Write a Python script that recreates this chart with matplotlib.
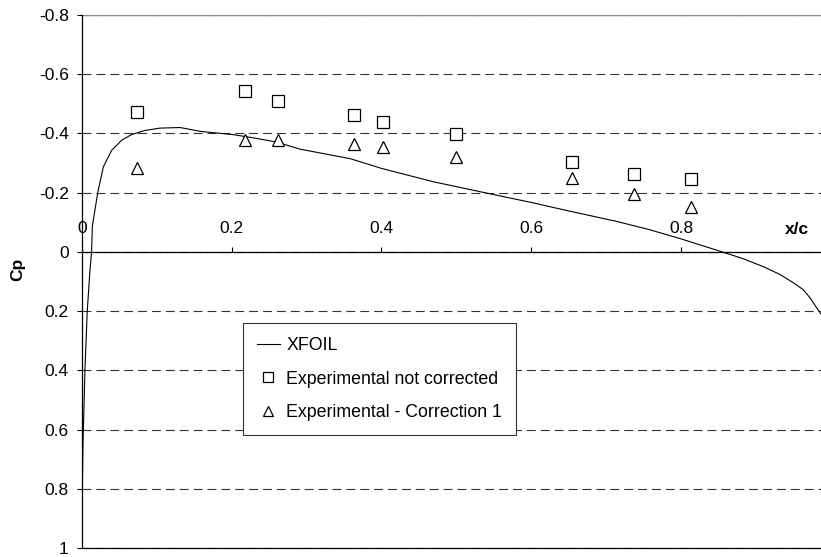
import numpy as np
import matplotlib
matplotlib.use('Agg')
import matplotlib.pyplot as plt

plt.rcParams['font.family'] = ['Liberation Sans', 'DejaVu Sans']

## data ########################################
# XFOIL Cp distribution (upper surface)
xfoil_x = [0.0, 0.0005, 0.0013, 0.004, 0.007, 0.0107, 0.0128, 0.0138, 0.021,
           0.0285, 0.0396, 0.053, 0.066, 0.084, 0.104, 0.131, 0.158, 0.202,
           0.229, 0.26, 0.291, 0.358, 0.4, 0.469, 0.547, 0.6, 0.647, 0.714,
           0.758, 0.8, 0.855, 0.883, 0.91, 0.932, 0.95, 0.963, 0.972, 0.987, 1.0]
xfoil_cp = [1.0, 0.8, 0.65, 0.395, 0.2, 0.06, 0.0, -0.086, -0.2,
            -0.287, -0.343, -0.377, -0.396, -0.41, -0.418, -0.42, -0.407, -0.396,
            -0.385, -0.371, -0.347, -0.315, -0.282, -0.237, -0.195, -0.167, -0.14, -0.103,
            -0.075, -0.044, 0.0, 0.023, 0.05, 0.076, 0.104, 0.127, 0.154, 0.21, 0.27]

# experimental pressure taps
exp_x = [0.074, 0.218, 0.262, 0.363, 0.402, 0.499, 0.655, 0.737, 0.813]
exp_raw = [-0.474, -0.542, -0.508, -0.463, -0.438, -0.397, -0.302, -0.263, -0.245]
exp_corr1 = [-0.284, -0.377, -0.377, -0.366, -0.354, -0.320, -0.250, -0.195, -0.151]

xticks = [0, 0.2, 0.4, 0.6, 0.8]
xticklabels = ['0', '0.2', '0.4', '0.6', '0.8']
yticks = [-0.8, -0.6, -0.4, -0.2, 0, 0.2, 0.4, 0.6, 0.8, 1]
yticklabels = ['-0.8', '-0.6', '-0.4', '-0.2', '0', '0.2', '0.4', '0.6', '0.8', '1']
################################################

fs = 12.5
fig = plt.figure(figsize=(8.21, 5.57), dpi=100)
ax = fig.add_axes([82 / 821, 9 / 557, 739 / 821, 533 / 557])

ax.plot(xfoil_x, xfoil_cp, color='black', lw=0.8, label='XFOIL', zorder=3)
ax.plot(exp_x, exp_raw, ls='none', marker='s', ms=9, mfc='white', mec='black',
        mew=0.9, label='Experimental not corrected', zorder=4)
ax.plot(exp_x, exp_corr1, ls='none', marker='^', ms=9, mfc='white', mec='black',
        mew=0.9, label='Experimental - Correction 1', zorder=4)

ax.set_xlim(0, 0.987)
ax.set_ylim(1, -0.8)

# y axis
ax.set_yticks(yticks)
ax.set_yticklabels(yticklabels, fontsize=fs)
ax.tick_params(axis='y', direction='out', length=5 * 0.72, width=0.8, pad=6)
ax.yaxis.grid(True, color='#333333', lw=0.8, dashes=(8, 4.5))
ax.set_axisbelow(True)

# x axis sits on Cp = 0, labels above it
ax.xaxis.tick_top()
ax.spines['top'].set_position(('data', 0))
ax.spines['top'].set_color('black')
ax.spines['top'].set_linewidth(0.9)
ax.set_xticks(xticks)
ax.set_xticklabels(xticklabels, fontsize=fs)
ax.tick_params(axis='x', direction='out', length=5 * 0.72, width=0.8, pad=7.5)

ax.spines['left'].set_linewidth(0.9)
ax.spines['bottom'].set_linewidth(0.9)
ax.spines['right'].set_visible(False)
# plot area border at top
ax.axhline(-0.8, color='#888888', lw=1.0, zorder=2)

ax.set_ylabel('Cp', fontsize=fs, fontweight='bold')
ax.yaxis.set_label_coords(-0.077, 0.522)
ax.text(0.967, 0.598, 'x/c', transform=ax.transAxes, fontsize=fs,
        fontweight='bold', ha='center', va='center')

leg = ax.legend(loc='upper left', bbox_to_anchor=(243 / 821, 1 - 323 / 557),
                bbox_transform=fig.transFigure, fontsize=12.8, frameon=True,
                fancybox=False, framealpha=1, edgecolor='#333333',
                borderpad=0.8, handlelength=1.26, handletextpad=0.38,
                labelspacing=0.92, markerscale=0.85, borderaxespad=0)
leg.get_frame().set_linewidth(0.8)

fig.savefig('out.png', dpi=100)
